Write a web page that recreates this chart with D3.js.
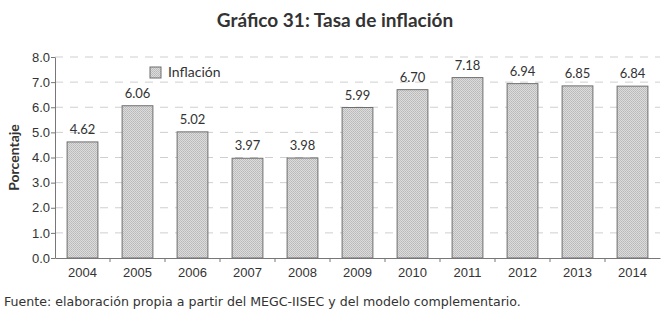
<!DOCTYPE html>
<html>
<head>
<meta charset="utf-8">
<script src="https://cdn.jsdelivr.net/npm/d3@7"></script>
<style>
  body { margin: 0; background: #fff; }
  svg { font-family: Lato, "Open Sans", sans-serif; }
</style>
</head>
<body>
<div id="chart"></div>
<script>
// Datos del gráfico
const anios = ["2004", "2005", "2006", "2007", "2008", "2009", "2010", "2011", "2012", "2013", "2014"];
const inflacion = [4.62, 6.06, 5.02, 3.97, 3.98, 5.99, 6.70, 7.18, 6.94, 6.85, 6.84];
const ticksY = [0, 1, 2, 3, 4, 5, 6, 7, 8];

const W = 668, H = 317;
const margin = { top: 57, right: 8, bottom: 59, left: 55 };
const width = W - margin.left - margin.right;
const height = H - margin.top - margin.bottom;

const svg = d3.select("#chart").append("svg")
    .attr("width", W)
    .attr("height", H);

// patrón punteado de las barras
const defs = svg.append("defs");
const pat = defs.append("pattern")
    .attr("id", "puntos")
    .attr("patternUnits", "userSpaceOnUse")
    .attr("width", 2)
    .attr("height", 2);
pat.append("rect").attr("width", 2).attr("height", 2).attr("fill", "#dcdcdc");
pat.append("rect").attr("width", 1).attr("height", 1).attr("fill", "#b8b8b8");
pat.append("rect").attr("x", 1).attr("y", 1).attr("width", 1).attr("height", 1).attr("fill", "#c0c0c0");

// título
svg.append("text")
    .attr("x", 335)
    .attr("y", 27)
    .attr("text-anchor", "middle")
    .style("font-size", "19px")
    .style("font-weight", "bold")
    .style("fill", "#333")
    .text("Gráfico 31: Tasa de inflación");

const g = svg.append("g")
    .attr("transform", `translate(${margin.left},${margin.top})`);

const x = d3.scaleBand()
    .domain(anios)
    .range([0, width])
    .paddingInner(0.44)
    .paddingOuter(0.22);

const y = d3.scaleLinear()
    .domain([0, 8])
    .range([height, 0]);

// líneas de cuadrícula
g.selectAll(".grid")
    .data(ticksY.filter(d => d > 0))
    .enter()
    .append("line")
    .attr("class", "grid")
    .attr("x1", 0)
    .attr("x2", width)
    .attr("y1", d => y(d))
    .attr("y2", d => y(d))
    .attr("stroke", "#cfcfcf")
    .attr("stroke-width", 1)
    .attr("stroke-dasharray", "8,7");

// barras
g.selectAll(".bar")
    .data(inflacion)
    .enter()
    .append("rect")
    .attr("class", "bar")
    .attr("x", (d, i) => x(anios[i]))
    .attr("y", d => y(d))
    .attr("width", x.bandwidth())
    .attr("height", d => height - y(d))
    .attr("fill", "url(#puntos)")
    .attr("stroke", "#6e6e6e")
    .attr("stroke-width", 1);

// etiquetas de valor
g.selectAll(".val")
    .data(inflacion)
    .enter()
    .append("text")
    .attr("class", "val")
    .attr("x", (d, i) => x(anios[i]) + x.bandwidth() / 2)
    .attr("y", d => y(d) - 8)
    .attr("text-anchor", "middle")
    .style("font-size", "13px")
    .style("fill", "#333")
    .text(d => d.toFixed(2));

// eje Y
const ejeY = g.append("g")
    .call(d3.axisLeft(y).tickValues(ticksY).tickFormat(d3.format(".1f")).tickSize(4).tickSizeOuter(0));
ejeY.select(".domain").attr("stroke", "#777");
ejeY.selectAll(".tick line").attr("stroke", "#777");
ejeY.selectAll("text").style("font-size", "13px").style("fill", "#333").attr("x", -5);

// eje X con marcas entre categorías
const ejeX = g.append("g")
    .attr("transform", `translate(0,${height})`)
    .call(d3.axisBottom(x).tickSize(0).tickSizeOuter(0));
ejeX.select(".domain").attr("stroke", "#777");
ejeX.selectAll("text").style("font-size", "13px").style("fill", "#333").attr("dy", "1.25em");

const step = x.step();
g.selectAll(".xsep")
    .data(anios.slice(1))
    .enter()
    .append("line")
    .attr("class", "xsep")
    .attr("x1", d => x(d) - (x.paddingInner() * step) / 2)
    .attr("x2", d => x(d) - (x.paddingInner() * step) / 2)
    .attr("y1", height)
    .attr("y2", height + 4)
    .attr("stroke", "#777");

// título del eje Y
svg.append("text")
    .attr("transform", `translate(19,${margin.top + height / 2}) rotate(-90)`)
    .attr("text-anchor", "middle")
    .style("font-size", "14px")
    .style("font-weight", "bold")
    .style("fill", "#333")
    .text("Porcentaje");

// leyenda
const leg = svg.append("g").attr("transform", "translate(150,67)");
leg.append("rect")
    .attr("width", 11)
    .attr("height", 11)
    .attr("fill", "url(#puntos)")
    .attr("stroke", "#6e6e6e");
leg.append("text")
    .attr("x", 18)
    .attr("y", 10)
    .style("font-size", "14px")
    .style("fill", "#333")
    .text("Inflación");

// fuente
svg.append("text")
    .attr("x", 4)
    .attr("y", 306)
    .style("font-family", "'DejaVu Sans', sans-serif")
    .style("font-size", "12.6px")
    .style("fill", "#333")
    .text("Fuente: elaboración propia a partir del MEGC-IISEC y del modelo complementario.");
</script>
</body>
</html>
